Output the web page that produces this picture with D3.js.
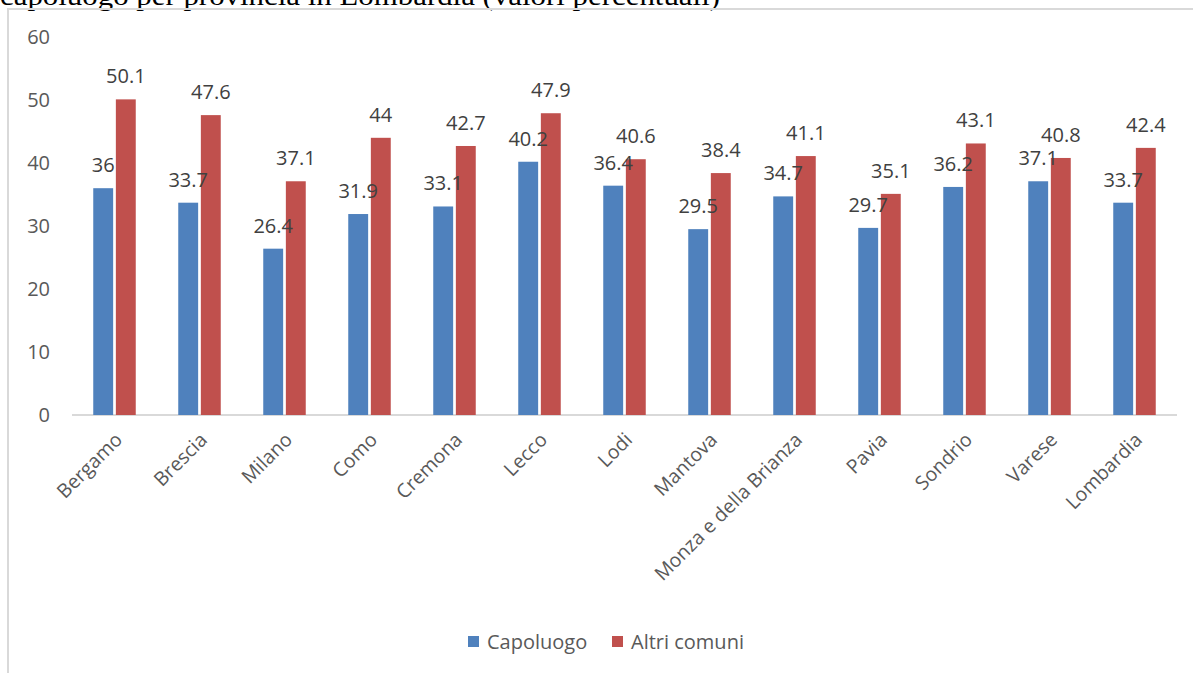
<!DOCTYPE html>
<html lang="it">
<head>
<meta charset="UTF-8">
<title>Capoluogo vs altri comuni</title>
<script src="https://d3js.org/d3.v7.min.js"></script>
<style>
  body { margin: 0; background: #fff; }
  svg text { font-family: "Open Sans", "Noto Sans", sans-serif; }
</style>
</head>
<body>
<div id="chart"></div>
<script>
const categories = ["Bergamo", "Brescia", "Milano", "Como", "Cremona", "Lecco", "Lodi",
  "Mantova", "Monza e della Brianza", "Pavia", "Sondrio", "Varese", "Lombardia"]
const capoluogo = [36, 33.7, 26.4, 31.9, 33.1, 40.2, 36.4, 29.5, 34.7, 29.7, 36.2, 37.1, 33.7]
const altriComuni = [50.1, 47.6, 37.1, 44, 42.7, 47.9, 40.6, 38.4, 41.1, 35.1, 43.1, 40.8, 42.4]
const yTicks = [0, 10, 20, 30, 40, 50, 60]
const seriesNames = ["Capoluogo", "Altri comuni"]
const colors = ["#4f81bd", "#c0504d"]

const width = 1193, height = 676
const svg = d3.select("#chart").append("svg")
  .attr("width", width).attr("height", height)

// title of the page above, cut by the crop
svg.append("text")
  .attr("x", 0).attr("y", 5)
  .attr("textLength", 720).attr("lengthAdjust", "spacingAndGlyphs")
  .style("font-family", "'Liberation Serif', serif")
  .style("font-size", "28px")
  .attr("fill", "#000")
  .text("capoluogo per provincia in Lombardia (valori percentuali)")

// chart frame
svg.append("path")
  .attr("d", "M8,673 V9 H1193")
  .attr("fill", "none").attr("stroke", "#d9d9d9").attr("stroke-width", 2)

const x0 = d3.scaleBand().domain(categories).range([72, 1177]).paddingInner(0.5).paddingOuter(0.25)
const x1 = d3.scaleBand().domain(seriesNames).range([0, x0.bandwidth()]).paddingInner(0.12)
const y = d3.scaleLinear().domain([0, 60]).range([415, 37])

// y axis labels
const yAxis = svg.append("g").attr("transform", "translate(50,0)")
  .call(d3.axisLeft(y).tickValues(yTicks).tickSize(0).tickPadding(0))
yAxis.select(".domain").remove()
yAxis.selectAll("text").attr("fill", "#595959").style("font-size", "20px")

// baseline
svg.append("line")
  .attr("x1", 72).attr("x2", 1177).attr("y1", y(0)).attr("y2", y(0))
  .attr("stroke", "#d9d9d9").attr("stroke-width", 2)

const rows = categories.map((c, i) => ({ cat: c, vals: [capoluogo[i], altriComuni[i]] }))

const groups = svg.selectAll("g.grp").data(rows).enter().append("g")
  .attr("class", "grp")
  .attr("transform", d => `translate(${x0(d.cat)},0)`)

groups.selectAll("rect").data(d => d.vals.map((v, j) => ({ s: seriesNames[j], v, j })))
  .enter().append("rect")
  .attr("x", d => x1(d.s))
  .attr("y", d => y(d.v))
  .attr("width", x1.bandwidth())
  .attr("height", d => y(0) - y(d.v))
  .attr("fill", d => colors[d.j])

groups.selectAll("text.val").data(d => d.vals.map((v, j) => ({ s: seriesNames[j], v, j })))
  .enter().append("text")
  .attr("class", "val")
  .attr("x", d => x1(d.s) + x1.bandwidth() / 2)
  .attr("y", d => y(d.v) - 16)
  .attr("text-anchor", "middle")
  .attr("fill", "#404040")
  .style("font-size", "20px")
  .text(d => d.v)

// category labels
const xAxis = svg.append("g").attr("transform", `translate(0,${y(0)})`)
  .call(d3.axisBottom(x0).tickSize(0).tickPadding(0))
xAxis.select(".domain").remove()
xAxis.selectAll("text")
  .attr("fill", "#595959")
  .style("font-size", "19.5px")
  .attr("text-anchor", "end")
  .attr("dy", 0)
  .attr("transform", "translate(9,26) rotate(-45)")

// legend
const legend = svg.append("g").attr("transform", "translate(468,642)")
const items = [{ n: seriesNames[0], c: colors[0], x: 0 }, { n: seriesNames[1], c: colors[1], x: 144 }]
items.forEach(it => {
  legend.append("rect").attr("x", it.x).attr("y", -6).attr("width", 11).attr("height", 11).attr("fill", it.c)
  legend.append("text").attr("x", it.x + 19).attr("y", 7)
    .attr("fill", "#595959").style("font-size", "20px").text(it.n)
})
</script>
</body>
</html>
